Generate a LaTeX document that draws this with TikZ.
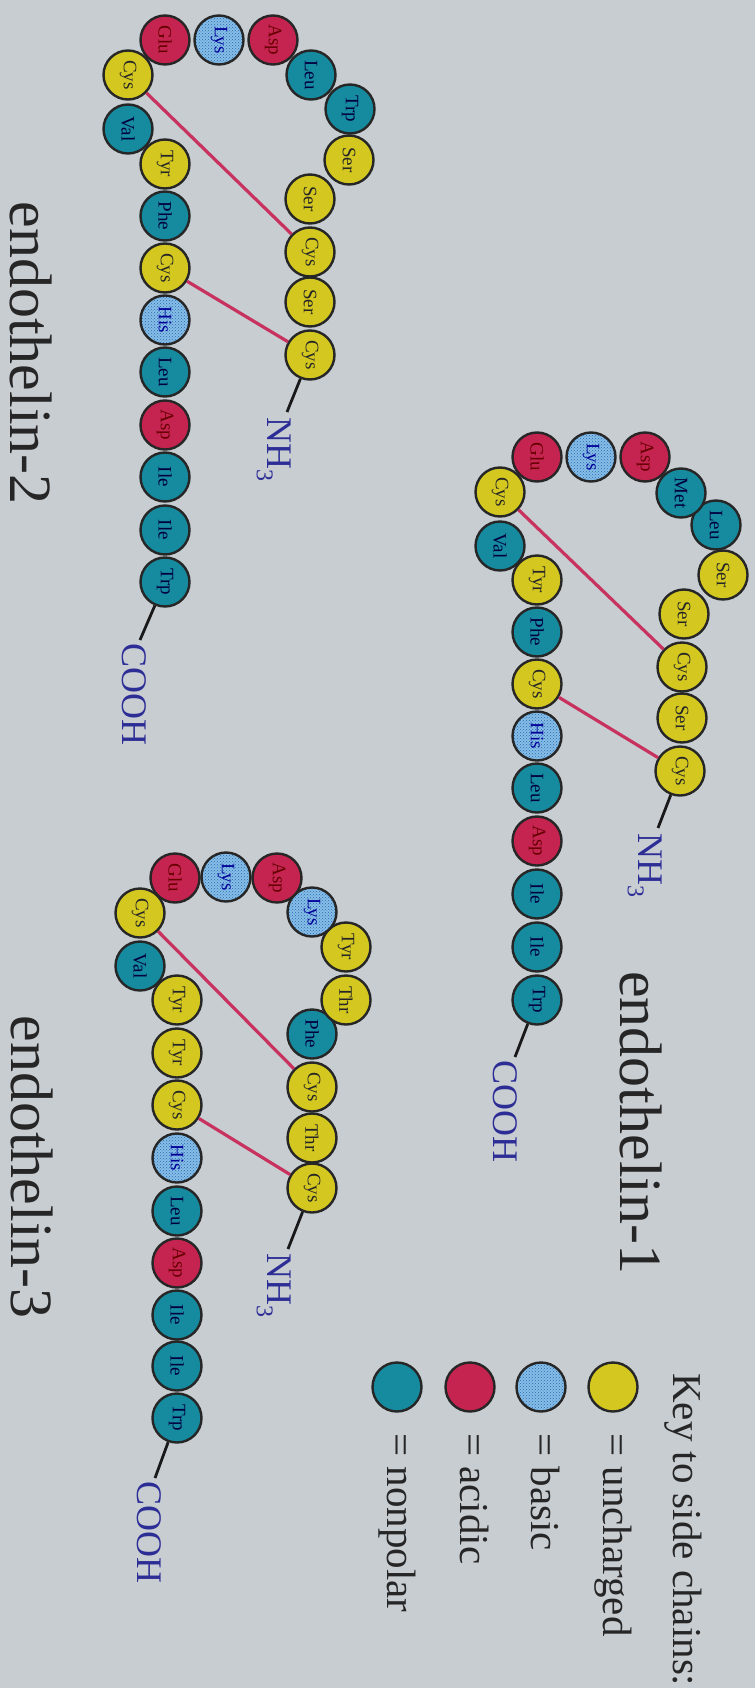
\documentclass[tikz,border=0pt]{standalone}
\usepackage{fontspec}
\setmainfont{Liberation Serif}
\usetikzlibrary{patterns}
\definecolor{bg}{RGB}{200,205,210}
\definecolor{cyel}{RGB}{212,200,32}
\definecolor{cteal}{RGB}{22,138,158}
\definecolor{cred}{RGB}{198,36,80}
\definecolor{cbas}{RGB}{135,190,232}
\definecolor{cbasdot}{RGB}{40,105,175}
\definecolor{cbond}{RGB}{200,50,95}
\definecolor{cterm}{RGB}{45,45,150}
\newcommand{\aafont}{\fontsize{19}{22}\selectfont}
\newcommand{\termfont}{\fontsize{36}{40}\selectfont}
\newcommand{\titlefont}{\fontsize{60}{66}\selectfont}
\newcommand{\keyfont}{\fontsize{41}{46}\selectfont}
\newcommand{\subthree}{\raisebox{-0.28em}{\fontsize{24}{26}\selectfont 3}}
\begin{document}
\begin{tikzpicture}[x=1pt,y=-1pt,
  aa/.style={circle, draw=black!85, line width=2.4pt, minimum size=49pt, inner sep=0pt, font=\aafont, rotate=-90},
  unc/.style={aa, fill=cyel, text=black!85},
  nonp/.style={aa, fill=cteal, text=black!75!blue},
  aci/.style={aa, fill=cred, text=black!60!red},
  bas/.style={aa, preaction={fill=cbas}, pattern=crosshatch dots, pattern color=cbasdot, text=black!40!blue},
  ss/.style={draw=cbond, line width=3.2pt},
  term/.style={draw=black!90, line width=2.8pt},
  termlab/.style={rotate=-90, anchor=base west, inner sep=0pt, font=\termfont, text=cterm},
  title/.style={rotate=-90, inner sep=0pt, font=\titlefont, text=black!85},
  keylab/.style={rotate=-90, anchor=base west, inner sep=0pt, font=\keyfont, text=black!85}
]
\fill[bg] (0,0) rectangle (755,1688);
\useasboundingbox (0,0) rectangle (755,1688);

% ---------------- endothelin-2 ----------------
\node[unc] (Bc1) at (310,355) {Cys};
\node[unc] (Bs2) at (310,302) {Ser};
\node[unc] (Bc3) at (310,252) {Cys};
\node[unc] (Bs4) at (310,199) {Ser};
\node[unc] (Bs5) at (349,160) {Ser};
\node[nonp] (Bw6) at (350,109) {Trp};
\node[nonp] (Bl7) at (311,75) {Leu};
\node[aci] (Bd8) at (273,40) {Asp};
\node[bas] (Bk9) at (219,40) {Lys};
\node[aci] (Be10) at (165,40) {Glu};
\node[unc] (Bc11) at (128,75) {Cys};
\node[nonp] (Bv12) at (128,129) {Val};
\node[unc] (By13) at (165,164) {Tyr};
\node[nonp] (Bf14) at (165,216) {Phe};
\node[unc] (Bc15) at (165,268) {Cys};
\node[bas] (Bh16) at (165,320) {His};
\node[nonp] (Bl17) at (165,372) {Leu};
\node[aci] (Bd18) at (165,425) {Asp};
\node[nonp] (Bi19) at (165,477) {Ile};
\node[nonp] (Bi20) at (165,530) {Ile};
\node[nonp] (Bw21) at (165,582) {Trp};
\draw[ss] (Bc11) -- (Bc3);
\draw[ss] (Bc15) -- (Bc1);
\coordinate (Bnhend) at (287,412);
\coordinate (Bcoend) at (140,640);
\draw[term] (Bc1) -- (Bnhend);
\draw[term] (Bw21) -- (Bcoend);
\node[termlab] (Bnh) at (267,417) {NH\subthree};
\node[termlab] (Bco) at (122,643) {COOH};
\node[title, anchor=base east] (Btitle) at (10,505) {endothelin-2};

% ---------------- endothelin-1 ----------------
\node[unc] (Ac1) at (680,771) {Cys};
\node[unc] (As2) at (682,718) {Ser};
\node[unc] (Ac3) at (682,667) {Cys};
\node[unc] (As4) at (684,614) {Ser};
\node[unc] (As5) at (723,575) {Ser};
\node[nonp] (Al6) at (716,525) {Leu};
\node[nonp] (Am7) at (681,493) {Met};
\node[aci] (Ad8) at (645,457) {Asp};
\node[bas] (Ak9) at (591,457) {Lys};
\node[aci] (Ae10) at (537,457) {Glu};
\node[unc] (Ac11) at (500,492) {Cys};
\node[nonp] (Av12) at (500,546) {Val};
\node[unc] (Ay13) at (537,580) {Tyr};
\node[nonp] (Af14) at (537,632) {Phe};
\node[unc] (Ac15) at (537,684) {Cys};
\node[bas] (Ah16) at (537,736) {His};
\node[nonp] (Al17) at (537,788) {Leu};
\node[aci] (Ad18) at (537,841) {Asp};
\node[nonp] (Ai19) at (537,894) {Ile};
\node[nonp] (Ai20) at (537,947) {Ile};
\node[nonp] (Aw21) at (537,1000) {Trp};
\draw[ss] (Ac11) -- (Ac3);
\draw[ss] (Ac15) -- (Ac1);
\coordinate (Anhend) at (658,828);
\coordinate (Acoend) at (515,1057);
\draw[term] (Ac1) -- (Anhend);
\draw[term] (Aw21) -- (Acoend);
\node[termlab] (Anh) at (638,833) {NH\subthree};
\node[termlab] (Aco) at (493,1060) {COOH};
\node[title, anchor=base west] (Atitle) at (620,971) {endothelin-1};

% ---------------- endothelin-3 ----------------
\node[unc] (Cc1) at (312,1188) {Cys};
\node[unc] (Ct2) at (312,1138) {Thr};
\node[unc] (Cc3) at (312,1087) {Cys};
\node[nonp] (Cf4) at (312,1034) {Phe};
\node[unc] (Ct5) at (346,1000) {Thr};
\node[unc] (Cy6) at (346,947) {Tyr};
\node[bas] (Ck7) at (312,912) {Lys};
\node[aci] (Cd8) at (277,878) {Asp};
\node[bas] (Ck9) at (226,877) {Lys};
\node[aci] (Ce10) at (175,878) {Glu};
\node[unc] (Cc11) at (140,913) {Cys};
\node[nonp] (Cv12) at (140,966) {Val};
\node[unc] (Cy13) at (177,1000) {Tyr};
\node[unc] (Cy14) at (177,1053) {Tyr};
\node[unc] (Cc15) at (177,1105) {Cys};
\node[bas] (Ch16) at (177,1158) {His};
\node[nonp] (Cl17) at (177,1211) {Leu};
\node[aci] (Cd18) at (177,1263) {Asp};
\node[nonp] (Ci19) at (177,1315) {Ile};
\node[nonp] (Ci20) at (177,1366) {Ile};
\node[nonp] (Cw21) at (177,1418) {Trp};
\draw[ss] (Cc11) -- (Cc3);
\draw[ss] (Cc15) -- (Cc1);
\coordinate (Cnhend) at (288,1249);
\coordinate (Ccoend) at (155,1478);
\draw[term] (Cc1) -- (Cnhend);
\draw[term] (Cw21) -- (Ccoend);
\node[termlab] (Cnh) at (267,1253) {NH\subthree};
\node[termlab] (Cco) at (137,1481) {COOH};
\node[title, anchor=base east] (Ctitle) at (12,1319) {endothelin-3};

% ---------------- key ----------------
\node[keylab] (keytitle) at (673,1373) {Key to side chains:};
\node[unc] (Kunc) at (613,1387) {};
\node[bas] (Kbas) at (541,1387) {};
\node[aci] (Kaci) at (470,1387) {};
\node[nonp] (Knon) at (397,1387) {};
\node[keylab] (Kuncl) at (603,1433) {= uncharged};
\node[keylab] (Kbasl) at (531,1433) {= basic};
\node[keylab] (Kacil) at (460,1433) {= acidic};
\node[keylab] (Knonl) at (387,1433) {= nonpolar};
\end{tikzpicture}
\end{document}
